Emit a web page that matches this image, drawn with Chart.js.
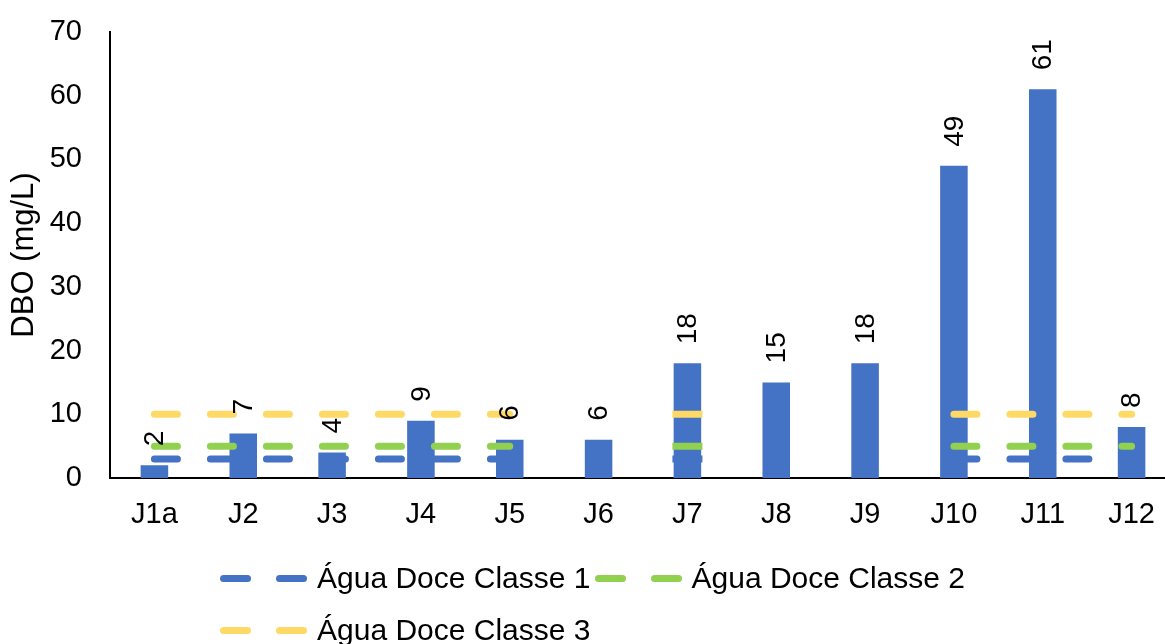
<!DOCTYPE html>
<html>
<head>
<meta charset="utf-8">
<script src="https://cdn.jsdelivr.net/npm/chart.js@4/dist/chart.umd.min.js"></script>
<style>
html,body{margin:0;padding:0;background:#fff;overflow:hidden;width:1165px;height:644px;}
#wrap{position:absolute;left:0;top:0;width:1180px;height:644px;}
#legend{position:absolute;left:0;top:0;width:1165px;height:644px;pointer-events:none;font-family:"Liberation Sans",Arial,sans-serif;font-size:30px;color:#000;}
.row{position:absolute;left:220px;height:36px;display:flex;align-items:center;white-space:nowrap;}
.item{display:flex;align-items:center;margin-right:4px;}
.dash{display:inline-block;width:31px;height:7px;border-radius:3.5px;}
.gap{display:inline-block;width:25px;}
.txt{margin-left:10px;}
</style>
</head>
<body>
<div id="wrap"><canvas id="c" width="1180" height="644"></canvas></div>
<div id="legend"></div>
<script>
// ---- data ----
const categories = ['J1a','J2','J3','J4','J5','J6','J7','J8','J9','J10','J11','J12'];
const dboValues  = [2, 7, 4, 9, 6, 6, 18, 15, 18, 49, 61, 8];
const classe1    = [3, 3, 3, 3, 3, null, 3, null, null, 3, 3, 3];
const classe2    = [5, 5, 5, 5, 5, null, 5, null, null, 5, 5, 5];
const classe3    = [10, 10, 10, 10, 10, null, 10, null, null, 10, 10, 10];
const seriesNames = ['DBO', 'Água Doce Classe 1', 'Água Doce Classe 2', 'Água Doce Classe 3'];
const yAxisTitle = 'DBO (mg/L)';
const yMin = 0, yMax = 70, yStep = 10;

// ---- styles ----
const BAR_COLOR = '#4472C4';
const LINE_COLORS = ['#4472C4', '#92D050', '#FFD966'];
const FONT = '"Liberation Sans", Arial, sans-serif';

function lineDataset(label, data, color) {
  return {
    type: 'line',
    label: label,
    data: data,
    borderColor: color,
    backgroundColor: color,
    borderWidth: 7,
    borderDash: [23, 33],
    borderCapStyle: 'round',
    spanGaps: false,
    fill: false,
    order: 1,
    pointStyle: 'line',
    pointBorderColor: color,
    pointBorderWidth: 7,
    // isolated points (no neighbours) are shown as a short dash
    pointRadius: (ctx) => {
      const d = ctx.dataset.data, i = ctx.dataIndex;
      if (d[i] == null) return 0;
      const prev = i > 0 ? d[i - 1] : null;
      const next = i < d.length - 1 ? d[i + 1] : null;
      return (prev == null && next == null) ? 15 : 0;
    },
    pointHoverRadius: 0
  };
}

const barLabels = {
  id: 'barLabels',
  afterDatasetsDraw(chart) {
    const meta = chart.getDatasetMeta(0);
    const ctx = chart.ctx;
    ctx.save();
    ctx.font = '28px ' + FONT;
    ctx.fillStyle = '#000';
    ctx.textAlign = 'left';
    ctx.textBaseline = 'middle';
    meta.data.forEach((bar, i) => {
      ctx.save();
      ctx.translate(bar.x + 1, bar.y - 19);
      ctx.rotate(-Math.PI / 2);
      ctx.fillText(String(dboValues[i]), 0, 0);
      ctx.restore();
    });
    ctx.restore();
  }
};

new Chart(document.getElementById('c'), {
  type: 'bar',
  data: {
    labels: categories,
    datasets: [
      {
        type: 'bar',
        label: seriesNames[0],
        data: dboValues,
        backgroundColor: BAR_COLOR,
        borderWidth: 0,
        barPercentage: 0.31,
        categoryPercentage: 1,
        order: 2
      },
      lineDataset(seriesNames[1], classe1, LINE_COLORS[0]),
      lineDataset(seriesNames[2], classe2, LINE_COLORS[1]),
      lineDataset(seriesNames[3], classe3, LINE_COLORS[2])
    ]
  },
  options: {
    responsive: false,
    animation: false,
    events: [],
    layout: { padding: { top: 32, right: 4, left: 0, bottom: 0 } },
    plugins: {
      legend: { display: false },
      tooltip: { enabled: false },
      title: { display: false }
    },
    scales: {
      x: {
        offset: true,
        grid: { display: false, drawTicks: false },
        border: { display: true, color: '#000', width: 2 },
        ticks: { color: '#000', font: { family: FONT, size: 29 }, padding: 20, maxRotation: 0, autoSkip: false },
        afterFit: (s) => { s.height = 166; }
      },
      y: {
        min: yMin,
        max: yMax,
        grid: { display: false, drawTicks: false },
        border: { display: true, color: '#000', width: 2 },
        ticks: { stepSize: yStep, color: '#000', font: { family: FONT, size: 29 }, padding: 28 },
        title: { display: true, text: yAxisTitle, color: '#000', font: { family: FONT, size: 31 }, padding: { top: 6, bottom: 0 } },
        afterFit: (s) => { s.width = 110; s.paddingTop = 0; s.paddingBottom = 0; }
      }
    }
  },
  plugins: [barLabels]
});

// ---- HTML legend built from series names/colours ----
(function buildLegend() {
  const legend = document.getElementById('legend');
  const rows = [[1, 2], [3]];
  const rowTops = [560, 612];
  rows.forEach((items, r) => {
    const row = document.createElement('div');
    row.className = 'row';
    row.style.top = rowTops[r] + 'px';
    items.forEach((k) => {
      const item = document.createElement('div');
      item.className = 'item';
      const color = LINE_COLORS[k - 1];
      const d1 = document.createElement('span'); d1.className = 'dash'; d1.style.background = color;
      const g = document.createElement('span'); g.className = 'gap';
      const d2 = document.createElement('span'); d2.className = 'dash'; d2.style.background = color;
      const t = document.createElement('span'); t.className = 'txt'; t.textContent = seriesNames[k];
      item.appendChild(d1); item.appendChild(g); item.appendChild(d2); item.appendChild(t);
      row.appendChild(item);
    });
    legend.appendChild(row);
  });
})();
</script>
</body>
</html>
